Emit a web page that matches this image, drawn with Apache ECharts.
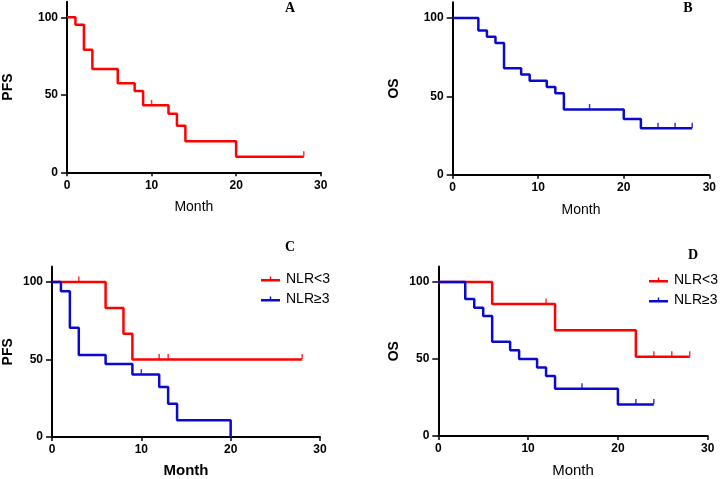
<!DOCTYPE html>
<html>
<head>
<meta charset="utf-8">
<script src="https://cdn.jsdelivr.net/npm/echarts@6/dist/echarts.min.js"></script>
<style>
  html, body { margin: 0; padding: 0; background: #fff; }
  #chart { width: 720px; height: 479px; }
</style>
</head>
<body>
<div id="chart"></div>
<script>
// Panel A: PFS, all patients
const aTime = [0, 1, 2, 3, 6, 8, 9, 12, 13, 14, 20, 28]
const aSurv = [100, 95.2, 79, 66.7, 57.4, 52.4, 43.2, 37.8, 30, 20, 10, 10]
const aCensorTime = [10, 28]
const aCensorSurv = [43.2, 10]

// Panel B: OS, all patients
const bTime = [0, 3, 4, 5, 6, 8, 9, 11, 12, 13, 20, 22, 28]
const bSurv = [100, 92, 88, 84, 68, 64, 60, 56, 52, 41.6, 35.6, 29.7, 29.7]
const bCensorTime = [16, 24, 26, 28]
const bCensorSurv = [41.6, 29.7, 29.7, 29.7]

// Panel C: PFS by NLR
const cLowTime = [0, 6, 8, 9, 28]
const cLowSurv = [100, 83.3, 66.7, 50, 50]
const cLowCensorTime = [3, 12, 13, 28]
const cLowCensorSurv = [100, 50, 50, 50]
const cHighTime = [0, 1, 2, 3, 6, 9, 12, 13, 14, 20]
const cHighSurv = [100, 94.1, 70.6, 52.9, 47.1, 40.3, 32.3, 21.5, 10.8, 0]
const cHighCensorTime = [10]
const cHighCensorSurv = [40.3]

// Panel D: OS by NLR
const dLowTime = [0, 6, 13, 22, 28]
const dLowSurv = [100, 85.7, 68.6, 51.4, 51.4]
const dLowCensorTime = [12, 24, 26, 28]
const dLowCensorSurv = [85.7, 51.4, 51.4, 51.4]
const dHighTime = [0, 3, 4, 5, 6, 8, 9, 11, 12, 13, 20, 24]
const dHighSurv = [100, 88.9, 83.3, 77.8, 61.1, 55.6, 50, 44.4, 38.9, 30.6, 20.4, 20.4]
const dHighCensorTime = [16, 22, 24]
const dHighCensorSurv = [30.6, 20.4, 20.4]

const groupNames = ['NLR<3', 'NLR≥3']
const xTicks = [0, 10, 20, 30]
const yTicks = [0, 50, 100]

const RED = '#ff0000'
const BLUE = '#0a0acc'
const FONT = '"Liberation Sans", Arial, sans-serif'
// line with a small censor tick, 19x6
const legendIcon = 'path://M0,3 L19,3 L19,5.5 L0,5.5 Z M8.8,0.5 L10.2,0.5 L10.2,3 L8.8,3 Z'

const zip = (xs, ys) => xs.map((x, i) => [x, ys[i]])

// one panel = grid + x axis + y axis
const panels = [
  { left: 64, top: 1.8, width: 256.7, height: 170.5, yName: 'PFS', yGap: 52, xGap: 28, xBold: false, xSize: 14 },
  { left: 452.7, top: 2.3, width: 256.6, height: 172.4, yName: 'OS', yGap: 52, xGap: 28, xBold: false, xSize: 14 },
  { left: 50, top: 266.6, width: 270, height: 172.7, yName: 'PFS', yGap: 37, xGap: 26, xBold: true, xSize: 15 },
  { left: 438.3, top: 266.5, width: 269.4, height: 173.5, yName: 'OS', yGap: 37, xGap: 27, xBold: false, xSize: 15 },
]

const axisLine = { show: true, lineStyle: { color: '#000', width: 2 } }
const labelStyle = { color: '#000', fontFamily: FONT, fontWeight: 'bold', fontSize: 12 }

const grid = panels.map((p) => ({
  left: p.left,
  top: p.top,
  width: p.width,
  height: p.height,
  containLabel: false,
}))

const xAxis = panels.map((p, i) => ({
  type: 'value',
  gridIndex: i,
  min: 0,
  max: 30,
  interval: 10,
  name: 'Month',
  nameLocation: 'middle',
  nameGap: p.xGap,
  nameTextStyle: { color: '#000', fontFamily: FONT, fontSize: p.xSize, fontWeight: p.xBold ? 'bold' : 'normal' },
  axisLine,
  axisTick: { show: true, length: 4, lineStyle: { color: '#000', width: 1.5 }, customValues: xTicks },
  axisLabel: { ...labelStyle, margin: 7, customValues: xTicks },
  splitLine: { show: false },
}))

const yAxis = panels.map((p, i) => ({
  type: 'value',
  gridIndex: i,
  min: 0,
  max: 110,
  name: p.yName,
  nameLocation: 'middle',
  nameRotate: 90,
  nameGap: p.yGap,
  nameTextStyle: { color: '#000', fontFamily: FONT, fontSize: 14, fontWeight: 'bold' },
  axisLine,
  axisTick: { show: true, length: 6, lineStyle: { color: '#000', width: 1.5 }, customValues: yTicks },
  axisLabel: { ...labelStyle, margin: 9, customValues: yTicks },
  splitLine: { show: false },
}))

const curve = (name, idx, time, surv, color) => ({
  name,
  type: 'line',
  xAxisIndex: idx,
  yAxisIndex: idx,
  step: 'end',
  symbol: 'none',
  data: zip(time, surv),
  lineStyle: { color, width: 2.5 },
  itemStyle: { color },
  silent: true,
  z: 3,
})

const censor = (name, idx, time, surv, color) => ({
  name,
  type: 'scatter',
  xAxisIndex: idx,
  yAxisIndex: idx,
  symbol: 'rect',
  symbolSize: [1.5, 5],
  symbolOffset: [0, -3],
  data: zip(time, surv),
  itemStyle: { color },
  silent: true,
  z: 3,
})

const series = [
  curve('A', 0, aTime, aSurv, RED),
  censor('A censored', 0, aCensorTime, aCensorSurv, RED),
  curve('B', 1, bTime, bSurv, BLUE),
  censor('B censored', 1, bCensorTime, bCensorSurv, BLUE),
  curve(groupNames[0], 2, cLowTime, cLowSurv, RED),
  censor('C low censored', 2, cLowCensorTime, cLowCensorSurv, RED),
  curve(groupNames[1], 2, cHighTime, cHighSurv, BLUE),
  censor('C high censored', 2, cHighCensorTime, cHighCensorSurv, BLUE),
  curve(groupNames[0], 3, dLowTime, dLowSurv, RED),
  censor('D low censored', 3, dLowCensorTime, dLowCensorSurv, RED),
  curve(groupNames[1], 3, dHighTime, dHighSurv, BLUE),
  censor('D high censored', 3, dHighCensorTime, dHighCensorSurv, BLUE),
]

const legendBase = {
  data: groupNames,
  orient: 'vertical',
  icon: legendIcon,
  itemWidth: 19,
  itemHeight: 6,
  itemGap: 4,
  selectedMode: false,
  textStyle: { color: '#000', fontFamily: FONT, fontSize: 14, lineHeight: 16, padding: [0, 0, 0, 1] },
}

const legend = [
  { ...legendBase, left: 256, top: 266 },
  { ...legendBase, left: 644, top: 267 },
]

const letter = (text, x, y) => ({
  type: 'text',
  x,
  y,
  style: {
    text,
    fill: '#000',
    font: 'bold 14px "Liberation Serif", "Times New Roman", serif',
    align: 'center',
    verticalAlign: 'middle',
  },
})

const chart = echarts.init(document.getElementById('chart'), null, { renderer: 'canvas' })
chart.setOption({
  animation: false,
  backgroundColor: '#fff',
  grid,
  xAxis,
  yAxis,
  legend,
  series,
  graphic: [
    letter('A', 290, 8),
    letter('B', 688, 8),
    letter('C', 290, 247),
    letter('D', 693, 255),
  ],
})
</script>
</body>
</html>
